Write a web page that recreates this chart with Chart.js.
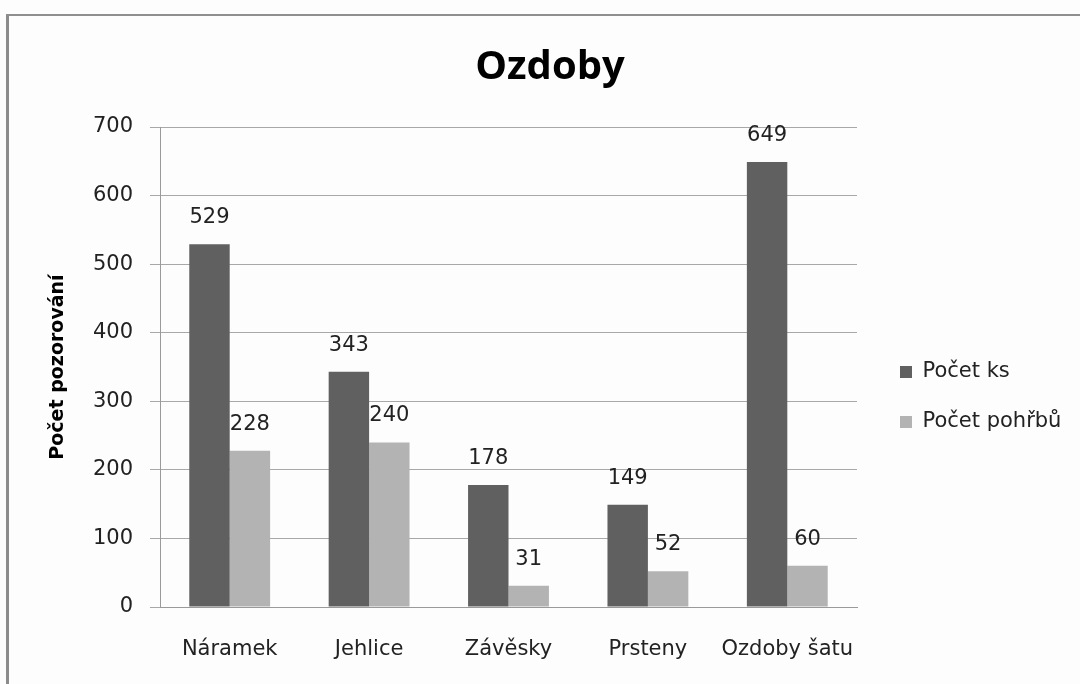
<!DOCTYPE html>
<html>
<head>
<meta charset="utf-8">
<script src="https://cdn.jsdelivr.net/npm/chart.js@4"></script>
<style>
html,body{margin:0;padding:0;background:#fdfdfd;}
#wrap{position:absolute;left:0;top:0;width:1080px;height:684px;}
#bl{position:absolute;left:6px;top:14px;width:3px;height:670px;background:#8c8c8c;}
#bt{position:absolute;left:6px;top:14px;width:1074px;height:2px;background:#8f8f8f;}
canvas{position:absolute;left:0;top:0;}
</style>
</head>
<body>
<div id="wrap">
<canvas id="c" width="1080" height="684"></canvas>
<div id="bl"></div><div id="bt"></div>
</div>
<script>
const categories = ["Náramek", "Jehlice", "Závěsky", "Prsteny", "Ozdoby šatu"];
const pocetKs = [529, 343, 178, 149, 649];
const pocetPohrbu = [228, 240, 31, 52, 60];
const seriesNames = ["Počet ks", "Počet pohřbů"];
const yTicks = [0, 100, 200, 300, 400, 500, 600, 700];

const FONT = "'DejaVu Sans', sans-serif";

const valueLabels = {
  id: 'valueLabels',
  afterDatasetsDraw(chart) {
    const ctx = chart.ctx;
    ctx.save();
    ctx.font = "21px " + FONT;
    ctx.fillStyle = "#222";
    ctx.textAlign = "center";
    ctx.textBaseline = "alphabetic";
    chart.data.datasets.forEach((ds, i) => {
      chart.getDatasetMeta(i).data.forEach((bar, j) => {
        ctx.fillText(String(ds.data[j]), bar.x, bar.y - 21);
      });
    });
    ctx.restore();
  }
};

const legendPlace = {
  id: 'legendPlace',
  beforeUpdate(chart) {
    const lg = chart.legend;
    if (lg && !lg._wrapped) {
      const orig = lg.fit.bind(lg);
      lg.fit = function () { orig(); this.width = 223; };
      lg._wrapped = true;
    }
  },
  afterLayout(chart) {
    const lg = chart.legend;
    lg.left += 14; lg.right += 14;
    lg.top += 55; lg.bottom += 55;
  }
};

new Chart(document.getElementById('c'), {
  type: 'bar',
  data: {
    labels: categories,
    datasets: [
      { label: seriesNames[0], data: pocetKs, backgroundColor: '#606060', barPercentage: 1, categoryPercentage: 0.58 },
      { label: seriesNames[1], data: pocetPohrbu, backgroundColor: '#b3b3b3', barPercentage: 1, categoryPercentage: 0.58 }
    ]
  },
  options: {
    responsive: false,
    animation: false,
    layout: { padding: { left: 20, right: 0, top: 0, bottom: 0 } },
    plugins: {
      title: {
        display: true, text: 'Ozdoby', color: '#000',
        font: { family: "'Open Sans', sans-serif", size: 40, weight: 'bold', lineHeight: 1.2 },
        padding: { top: 44, bottom: 35 }
      },
      legend: {
        position: 'right',
        labels: {
          boxWidth: 12, boxHeight: 12, color: '#222',
          font: { family: FONT, size: 21 },
          padding: 29
        }
      },
      tooltip: { enabled: false }
    },
    scales: {
      x: {
        afterFit(scale) { scale.height = 77; },
        grid: { display: false },
        border: { color: '#9a9a9a', width: 1 },
        ticks: { color: '#222', font: { family: FONT, size: 21 }, padding: 22, autoSkip: false, maxRotation: 0, minRotation: 0 }
      },
      y: {
        min: 0, max: 700,
        afterFit(scale) { scale.width = 140; },
        afterBuildTicks(scale) { scale.ticks = yTicks.map(v => ({ value: v })); },
        grid: { color: '#a8a8a8', tickLength: 10, drawTicks: true },
        border: { color: '#9a9a9a', width: 1 },
        ticks: { color: '#222', font: { family: FONT, size: 21 }, padding: 17 },
        title: {
          display: true, text: 'Počet pozorování', color: '#000',
          font: { family: FONT, size: 19, weight: 'bold', lineHeight: 1.2 }, padding: { top: 27, bottom: 0 }
        }
      }
    }
  },
  plugins: [valueLabels, legendPlace]
});
</script>
</body>
</html>
